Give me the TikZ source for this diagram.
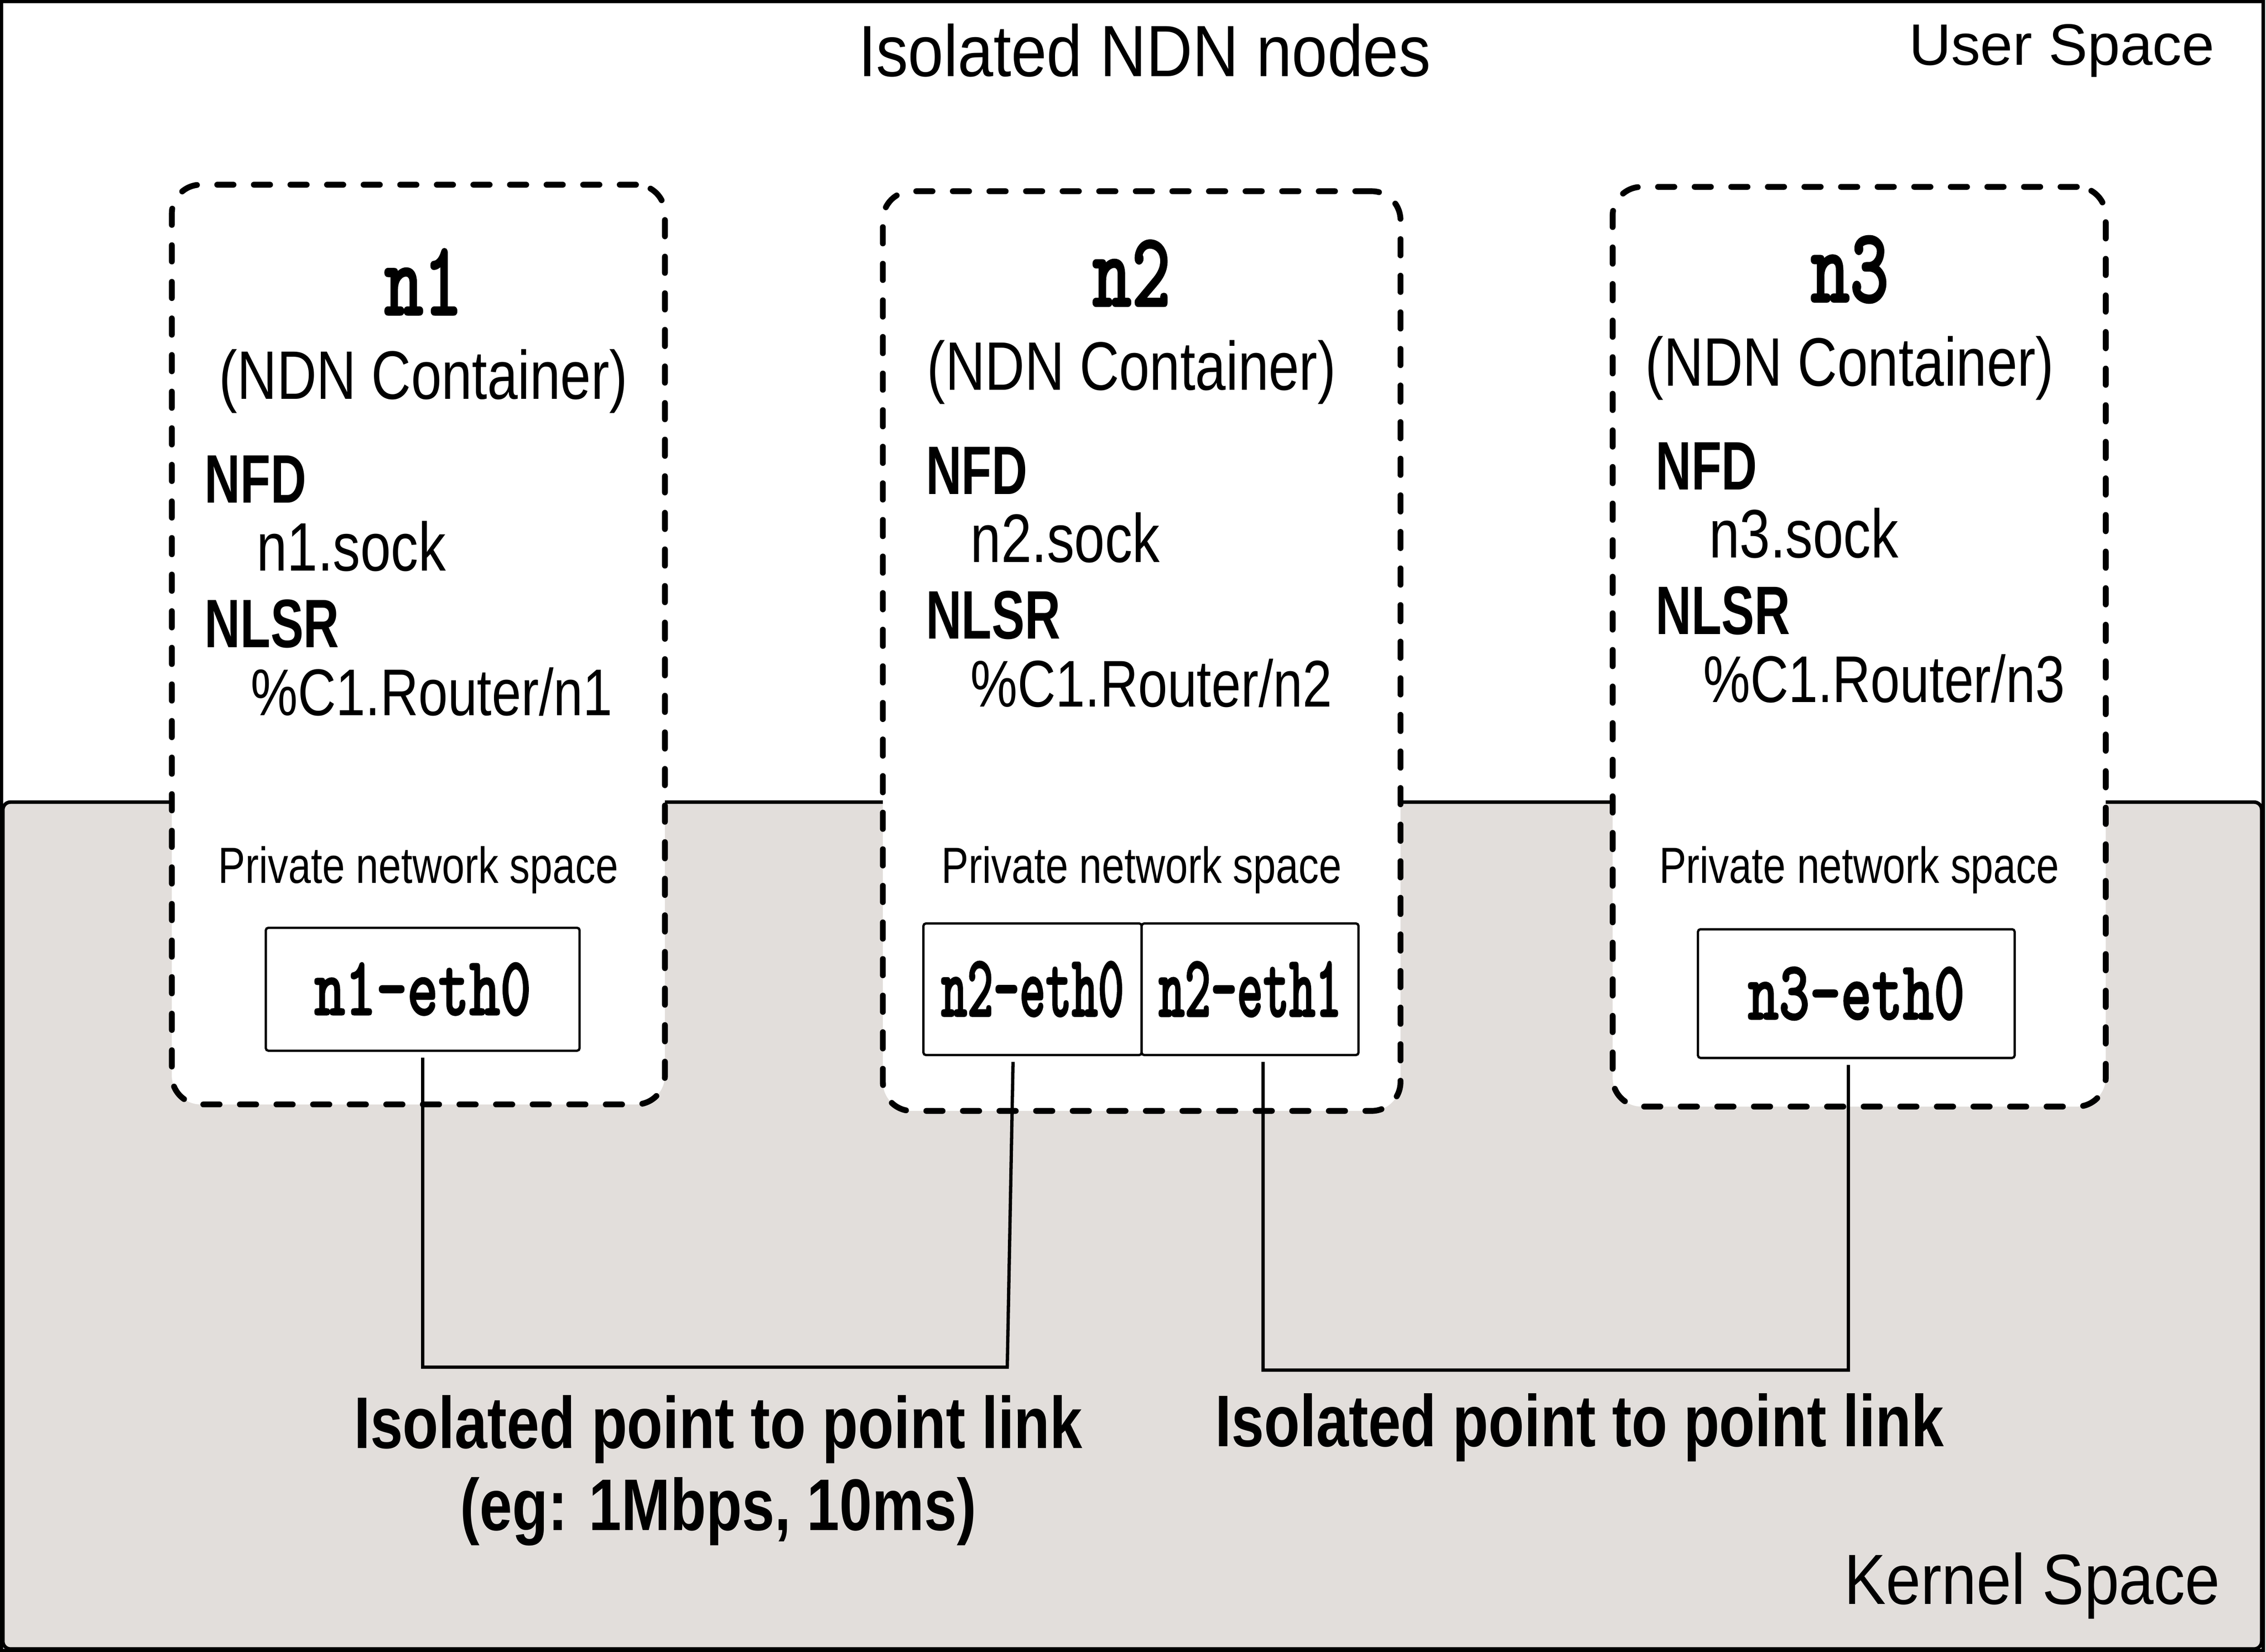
\documentclass[tikz,border=0pt]{standalone}
\usepackage{fontspec}
\setmainfont{Liberation Sans}
\newfontfamily\labelfont{Liberation Sans}[FakeStretch=0.8]
\newfontfamily\tagfont{Liberation Sans}[FakeStretch=0.72]
\newfontfamily\spacefont{Liberation Sans}[FakeStretch=0.88]
\newfontfamily\ifacefont{lmmonolt10-bold.otf}[FakeStretch=0.7, FakeBold=1.2]
\newfontfamily\ifacenarrow{lmmonolt10-bold.otf}[FakeStretch=0.56, FakeBold=1.2]
\definecolor{kernelgray}{RGB}{226,222,219}
\tikzset{
  container/.style={draw, fill=white, line width=1.15pt, dash pattern=on 3.2pt off 4pt,
    line cap=round, rounded corners=0.2cm, inner sep=0pt},
  iface/.style={draw, fill=white, line width=0.45pt, rounded corners=0.5pt, inner sep=0pt,
    font={\ifacefont\fontsize{16.6}{18}\selectfont}},
  ifacepair/.style={iface, font={\ifacenarrow\fontsize{17.5}{18}\selectfont}},
  link/.style={line width=0.65pt},
  txt/.style={inner sep=0pt, anchor=base},
  txtl/.style={inner sep=0pt, anchor=base west}
}
\begin{document}
\begin{tikzpicture}[x=0.01cm, y=-0.01cm]

    \useasboundingbox (0,0) rectangle (1568,1143);

    % user space and kernel space
    \draw[line width=0.7pt, fill=white] (1,1) rectangle (1566,1142);
    \draw[line width=0.7pt, fill=kernelgray, rounded corners=1.5pt] (2,555) rectangle (1565,1141);

    \node[txt, font={\spacefont\fontsize{14.3}{17}\selectfont}] (title) at (792,53) {Isolated NDN nodes};
    \node[inner sep=0pt, anchor=base east, font={\fontsize{11.5}{14}\selectfont}] (user) at (1533,45) {User Space};
    \node[inner sep=0pt, anchor=base east, font={\spacefont\fontsize{14}{17}\selectfont}] (kernel) at (1537,1110) {Kernel Space};

    % the three containers
    \foreach \n/\cx/\cy/\w/\tx/\lx/\sx/\rx/\dy in
      {1/289.5/446/3.41/293/141/177/173/0, 2/790/450.5/3.58/783/640/671/671/-6, 3/1286.5/447.5/3.41/1280/1145/1182/1178/-9}
    {
      \node[container, minimum width=\w cm, minimum height=6.36cm] (box\n) at (\cx,\cy) {};
      \node[txt, font={\ifacefont\fontsize{21}{22}\selectfont}] (name\n) at (\tx,218+\dy) {n\n};
      \node[txt, font={\labelfont\fontsize{13.5}{16}\selectfont}] (kind\n) at (\tx,276+\dy) {(NDN Container)};
      \node[txtl, font={\tagfont\bfseries\fontsize{13.5}{16}\selectfont}] (nfd\n) at (\lx,348+\dy) {NFD};
      \node[txtl, font={\labelfont\fontsize{13.5}{16}\selectfont}] (sock\n) at (\sx,395+\dy) {n\n.sock};
      \node[txtl, font={\tagfont\bfseries\fontsize{13.5}{16}\selectfont}] (nlsr\n) at (\lx,448+\dy) {NLSR};
      \node[txtl, font={\labelfont\fontsize{13}{16}\selectfont}] (router\n) at (\rx,495+\dy) {\%C1.Router/n\n};
      \node[txt, font={\labelfont\fontsize{10}{12}\selectfont}] (priv\n) at (\cx,611) {Private network space};
    }

    % interfaces
    \node[iface, minimum width=2.17cm, minimum height=0.85cm] (eth10) at (292.5,684.5) {n1-eth0};
    \node[ifacepair, minimum width=1.51cm, minimum height=0.91cm] (eth20) at (714.5,684.5) {n2-eth0};
    \node[ifacepair, minimum width=1.50cm, minimum height=0.91cm] (eth21) at (865,684.5) {n2-eth1};
    \node[iface, minimum width=2.19cm, minimum height=0.89cm] (eth30) at (1284.5,687.5) {n3-eth0};

    % point to point links
    \draw[link] ([yshift=-0.04cm]eth10.south) |- (697,946) -- ([xshift=-0.135cm, yshift=-0.04cm]eth20.south);
    \draw[link] ([xshift=0.09cm, yshift=-0.04cm]eth21.south) |- (1279,948) -- ([xshift=-0.055cm, yshift=-0.04cm]eth30.south);

    \node[txt, font={\labelfont\bfseries\fontsize{14.4}{17}\selectfont}] (link1) at (497,1002) {Isolated point to point link};
    \node[txt, font={\labelfont\bfseries\fontsize{14.4}{17}\selectfont}] (rate1) at (497,1059) {(eg: 1Mbps, 10ms)};
    \node[txt, font={\labelfont\bfseries\fontsize{14.4}{17}\selectfont}] (link2) at (1093,1001) {Isolated point to point link};

\end{tikzpicture}
\end{document}
